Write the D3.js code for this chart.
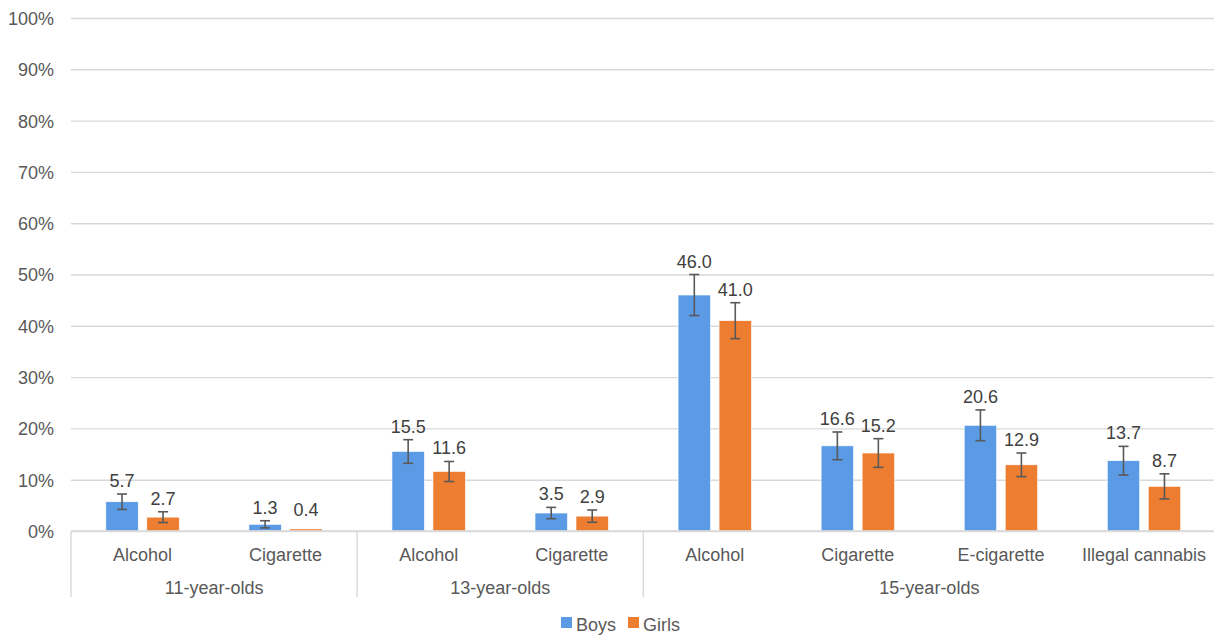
<!DOCTYPE html>
<html><head><meta charset="utf-8">
<script src="https://cdn.jsdelivr.net/npm/d3@7"></script>
<style>
html,body{margin:0;padding:0;background:#fff;}
svg{display:block;font-family:"Liberation Sans",Arial,sans-serif;}
</style></head>
<body><svg id="c" width="1214" height="636"></svg>
<script>
const categories = ["Alcohol","Cigarette","Alcohol","Cigarette","Alcohol","Cigarette","E-cigarette","Illegal cannabis"];
const groups = ["11-year-olds","11-year-olds","13-year-olds","13-year-olds","15-year-olds","15-year-olds","15-year-olds","15-year-olds"];
const groupNames = ["11-year-olds","13-year-olds","15-year-olds"];
const seriesNames = ["Boys","Girls"];
const boys = [5.7, 1.3, 15.5, 3.5, 46.0, 16.6, 20.6, 13.7];
const girls = [2.7, 0.4, 11.6, 2.9, 41.0, 15.2, 12.9, 8.7];
const boysErr = [1.5, 0.7, 2.3, 1.1, 4.0, 2.7, 3.0, 2.8];
const girlsErr = [1.05, 0, 1.95, 1.2, 3.5, 2.8, 2.3, 2.45];
const yTicks = [0,10,20,30,40,50,60,70,80,90,100];
const colors = ["#5B9BE6","#ED7D31"];

const svg = d3.select("#c");
const pLeft = 71, pRight = 1215.5, pTop = 18, pBase = 531;
const idx = d3.range(categories.length);
const x = d3.scaleBand().domain(idx).range([pLeft, pRight]).padding(0);
const y = d3.scaleLinear().domain([0,100]).range([pBase, pTop]);
const w = x.bandwidth();
const barW = w * 0.2265, gap = w * 0.06;
const sx = d3.scaleOrdinal().domain([0,1]).range([-gap/2 - barW, gap/2]);
const txt = "#595959";
const grid = "#D9D9D9";

// gridlines
const yAxis = d3.axisLeft(y).tickValues(yTicks).tickFormat(d => d + "%").tickSize(-(pRight-pLeft)).tickPadding(17);
const ga = svg.append("g").attr("transform", `translate(${pLeft},0)`).call(yAxis);
ga.select(".domain").remove();
ga.selectAll(".tick line").attr("stroke", grid).attr("stroke-width", 1.4);
ga.selectAll(".tick text").attr("fill", txt).attr("font-size", 18).attr("dy", "0.36em")
  .attr("font-family", '"Liberation Sans",Arial,sans-serif');

// bars
const data = [];
idx.forEach(i => {
  data.push({i, s:0, v:boys[i], e:boysErr[i]});
  data.push({i, s:1, v:girls[i], e:girlsErr[i]});
});
svg.append("g").selectAll("rect").data(data).join("rect")
  .attr("x", d => x(d.i) + w/2 + sx(d.s))
  .attr("y", d => y(d.v))
  .attr("width", barW)
  .attr("height", d => pBase - y(d.v))
  .attr("fill", d => colors[d.s])
  .attr("stroke", "#fff").attr("stroke-width", 0.6);

// axis base line
svg.append("line").attr("x1", pLeft).attr("x2", pRight).attr("y1", pBase).attr("y2", pBase)
  .attr("stroke", grid).attr("stroke-width", 1.6);

// error bars
const eg = svg.append("g").attr("stroke", "#595959").attr("stroke-width", 1.6).attr("fill", "none");
data.filter(d => d.e > 0).forEach(d => {
  const cx = x(d.i) + w/2 + sx(d.s) + barW/2;
  const y1 = y(d.v + d.e), y2 = y(d.v - d.e);
  eg.append("line").attr("x1", cx).attr("x2", cx).attr("y1", y1).attr("y2", y2);
  eg.append("line").attr("x1", cx-5).attr("x2", cx+5).attr("y1", y1).attr("y2", y1);
  eg.append("line").attr("x1", cx-5).attr("x2", cx+5).attr("y1", y2).attr("y2", y2);
});

// data labels
svg.append("g").selectAll("text").data(data).join("text")
  .attr("x", d => x(d.i) + w/2 + sx(d.s) + barW/2)
  .attr("y", d => d.e > 0 ? y(d.v + d.e) - 7 : y(d.v) - 13)
  .attr("text-anchor", "middle").attr("font-size", 18).attr("fill", "#404040")
  .text(d => d.v.toFixed(1));

// category labels
svg.append("g").selectAll("text").data(idx).join("text")
  .attr("x", i => x(i) + w/2).attr("y", 561)
  .attr("text-anchor", "middle").attr("font-size", 18).attr("fill", txt)
  .text(i => categories[i]);

// group labels and separators
const groupInfo = groupNames.map(g => {
  const members = idx.filter(i => groups[i] === g);
  return {g, x0: x(members[0]), x1: x(members[members.length-1]) + w};
});
svg.append("g").selectAll("text").data(groupInfo).join("text")
  .attr("x", d => (d.x0 + d.x1)/2).attr("y", 594)
  .attr("text-anchor", "middle").attr("font-size", 18).attr("fill", txt)
  .text(d => d.g);
const seps = [groupInfo[0].x0].concat(groupInfo.map(d => d.x1));
svg.append("g").selectAll("line").data(seps).join("line")
  .attr("x1", d => d).attr("x2", d => d).attr("y1", pBase).attr("y2", 597)
  .attr("stroke", grid).attr("stroke-width", 1.4);

// legend
const lg = svg.append("g");
const legX = [561, 628];
seriesNames.forEach((n, k) => {
  lg.append("rect").attr("x", legX[k]).attr("y", 617).attr("width", 11).attr("height", 11).attr("fill", colors[k]);
  lg.append("text").attr("x", legX[k] + 15).attr("y", 631).attr("font-size", 18).attr("fill", txt).text(n);
});
</script></body></html>
